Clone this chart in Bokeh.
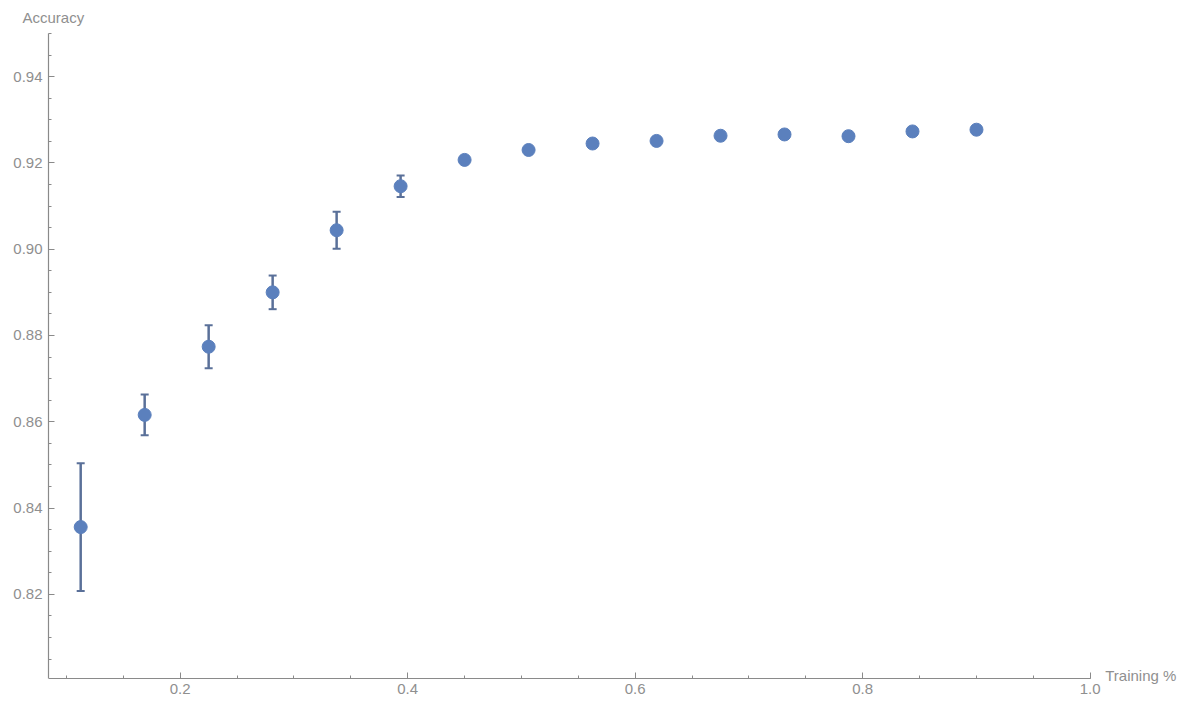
import numpy as np
from bokeh.plotting import figure
from bokeh.models import Range1d, FixedTicker, ColumnDataSource, Whisker, TeeHead, Title, Label
from bokeh.embed import file_html
from bokeh.resources import INLINE

# ---- data ----
training_frac = [0.1125, 0.16875, 0.225, 0.28125, 0.3375, 0.39375, 0.45, 0.50625,
                 0.5625, 0.61875, 0.675, 0.73125, 0.7875, 0.84375, 0.9]
accuracy = [0.8356, 0.8616, 0.8774, 0.8900, 0.9044, 0.9146, 0.9207, 0.9230,
            0.9245, 0.9251, 0.9263, 0.9266, 0.9262, 0.9273, 0.9277]
acc_err = [0.0148, 0.0047, 0.0050, 0.0039, 0.0043, 0.0025, 0.0006, 0.0003,
           0.0003, 0.0003, 0.0003, 0.0003, 0.0006, 0.0003, 0.0003]

x_ticks = [0.2, 0.4, 0.6, 0.8, 1.0]
x_tick_labels = ["0.2", "0.4", "0.6", "0.8", "1.0"]
y_ticks = [0.82, 0.84, 0.86, 0.88, 0.90, 0.92, 0.94]
y_tick_labels = ["0.82", "0.84", "0.86", "0.88", "0.90", "0.92", "0.94"]

x_label = "Training %"
y_label = "Accuracy"

X_MIN, X_MAX = 0.0842, 1.0
Y_MIN, Y_MAX = 0.8005, 0.95

FONT = "Liberation Sans"
AXIS_COL = "#8a8a8a"
TEXT_COL = "#8f8f8f"
PT_COL = "#5b80bd"
BAR_COL = "#5a7099"

# the frame reaches past the axes' ends so that the axis-end label fits inside it
p = figure(width=1190, height=704, output_backend="svg", toolbar_location=None,
           x_range=Range1d(X_MIN, 1.0864), y_range=Range1d(0.79447, Y_MAX),
           min_border_left=48, min_border_right=2, min_border_top=33,
           min_border_bottom=0)
p.outline_line_color = None
p.grid.visible = False
p.background_fill_color = "white"
p.border_fill_color = "white"

lower = [a - e for a, e in zip(accuracy, acc_err)]
upper = [a + e for a, e in zip(accuracy, acc_err)]
src = ColumnDataSource(dict(x=training_frac, y=accuracy, lo=lower, hi=upper))

wh = Whisker(source=src, base="x", lower="lo", upper="hi",
             line_color=BAR_COL, line_width=2.5,
             upper_head=TeeHead(size=8, line_color=BAR_COL, line_width=2),
             lower_head=TeeHead(size=8, line_color=BAR_COL, line_width=2))
p.add_layout(wh)
p.scatter("x", "y", source=src, marker="circle", size=13,
          fill_color=PT_COL, line_color=PT_COL)

minor_x = [round(v, 3) for v in np.arange(0.1, 1.0001, 0.05)]
minor_y = [round(v, 4) for v in np.arange(0.805, 0.9501, 0.005)]

p.xaxis.ticker = FixedTicker(ticks=x_ticks, minor_ticks=minor_x)
p.yaxis.ticker = FixedTicker(ticks=y_ticks, minor_ticks=minor_y)
p.xaxis.major_label_overrides = {t: l for t, l in zip(x_ticks, x_tick_labels)}
p.yaxis.major_label_overrides = {t: l for t, l in zip(y_ticks, y_tick_labels)}
p.xaxis.bounds = (X_MIN, X_MAX)
p.yaxis.bounds = (Y_MIN, Y_MAX)
p.xaxis.fixed_location = Y_MIN

for ax in (p.xaxis[0], p.yaxis[0]):
    ax.axis_line_color = AXIS_COL
    ax.axis_line_width = 1.2
    ax.major_tick_line_color = AXIS_COL
    ax.minor_tick_line_color = AXIS_COL
    ax.major_tick_in = 6
    ax.major_tick_out = 0
    ax.minor_tick_in = 3
    ax.minor_tick_out = 0
    ax.major_label_text_color = TEXT_COL
    ax.major_label_text_font = FONT
    ax.major_label_text_font_size = "15px"
    ax.major_label_standoff = 6

p.add_layout(Title(text=y_label, align="left", offset=-26, standoff=12,
                   vertical_align="top",
                   text_font=FONT, text_font_size="15px", text_font_style="normal",
                   text_color=TEXT_COL), "above")
p.add_layout(Label(x=X_MAX, y=Y_MIN, x_offset=15, y_offset=3, text=x_label,
                   text_align="left", text_baseline="alphabetic",
                   text_font=FONT, text_font_size="15px", text_color=TEXT_COL))

open("out.html", "w").write(file_html(p, INLINE))
